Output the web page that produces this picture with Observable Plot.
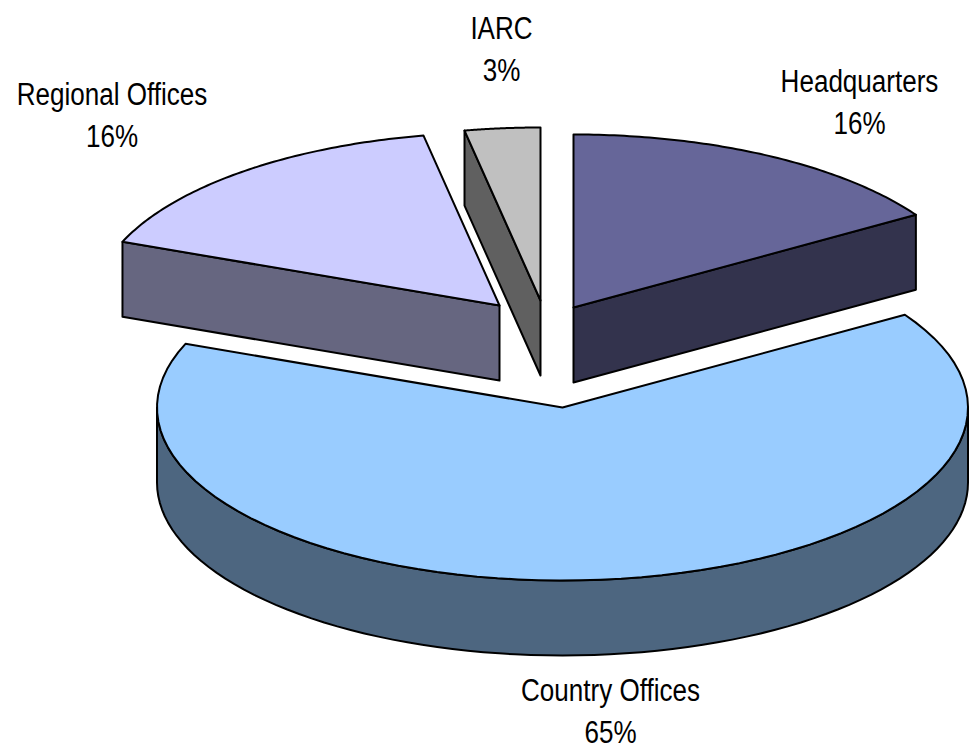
<!DOCTYPE html>
<html>
<head>
<meta charset="utf-8">
<script src="https://cdn.jsdelivr.net/npm/d3@7"></script>
<script src="https://cdn.jsdelivr.net/npm/@observablehq/plot@0.6"></script>
<style>
html,body{margin:0;padding:0;background:#fff}
svg{display:block}
</style>
</head>
<body>
<div id="chart"></div>
<script>
// Data, clockwise from twelve o'clock
const categories = ["Headquarters", "Country Offices", "Regional Offices", "IARC"];
const shares = [16, 65, 16, 3];

// Presentation of the 3D pie
const topColors = ["#666699", "#99CCFF", "#CCCCFF", "#C0C0C0"];
const sideColors = ["#33334D", "#4D6680", "#666680", "#606060"];
const apexX = [573, 562, 499, 540];
const apexY = [307, 407, 305, 300];
const labelX = [859, 610, 111.5, 501];
const labelY = [99.5, 708.5, 112, 46];
const RX = 405.5, RY = 173, DEPTH = 75;

const rad = d => d * Math.PI / 180;
const rim = (i, deg, drop = 0) => ({
  x: apexX[i] + RX * Math.cos(rad(deg)),
  y: apexY[i] - RY * Math.sin(rad(deg)) + drop
});
const arc = (i, a0, a1, drop = 0) =>
  d3.range(0, 81).map(k => rim(i, a0 + (a1 - a0) * k / 80, drop));

// Slice angles, from the shares
let cum = 0;
const slices = shares.map((s, i) => {
  const a0 = 90 - cum * 3.6;
  cum += s;
  return {i, a0, a1: 90 - cum * 3.6};
});

const polygons = [];
const add = (pts, fill) => polygons.push(pts.map(p => ({...p, fill, id: polygons.length})));
const apex = (i, drop = 0) => ({x: apexX[i], y: apexY[i] + drop});

// Country Offices
{
  const {i, a0, a1} = slices[1];
  add([...arc(i, 180, 360), ...arc(i, 360, 180, DEPTH)], sideColors[i]);
  add([apex(i), ...arc(i, a0, a1)], topColors[i]);
}
// Headquarters: front cut face
{
  const {i, a0, a1} = slices[0];
  add([apex(i), rim(i, a1), rim(i, a1, DEPTH), apex(i, DEPTH)], sideColors[i]);
  add([apex(i), ...arc(i, a0, a1)], topColors[i]);
}
// Regional Offices: front cut face
{
  const {i, a0, a1} = slices[2];
  add([apex(i), rim(i, a0), rim(i, a0, DEPTH), apex(i, DEPTH)], sideColors[i]);
  add([apex(i), ...arc(i, a0, a1)], topColors[i]);
}
// IARC: left cut face
{
  const {i, a0, a1} = slices[3];
  add([apex(i), rim(i, a0), rim(i, a0, DEPTH), apex(i, DEPTH)], sideColors[i]);
  add([apex(i), ...arc(i, a0, a1)], topColors[i]);
}

const labels = categories.map((c, i) => ({
  text: `${c}\n${shares[i]}%`, x: labelX[i], y: labelY[i]
}));

const marks = d3.groups(polygons.flat(), d => d.id).map(([, pts]) =>
  Plot.line(pts, {
    x: "x", y: "y", curve: "linear-closed",
    fill: pts[0].fill, stroke: "#000", strokeWidth: 2, strokeLinejoin: "round"
  })
);

const chart = Plot.plot({
  width: 969, height: 744,
  margin: 0,
  x: {type: "linear", domain: [0, 969], range: [0, 969], axis: null},
  y: {type: "linear", domain: [0, 744], range: [0, 744], axis: null},
  style: {background: "#fff"},
  marks: [
    ...marks,
    Plot.text(labels, {
      x: "x", y: "y", text: "text",
      fontSize: 31, lineHeight: 1.355, fill: "#000",
      fontFamily: "Liberation Sans", textAnchor: "middle"
    })
  ]
});
document.getElementById("chart").appendChild(chart);
// The reference's labels are set in a condensed cut of the face
chart.querySelectorAll("text tspan").forEach(t => {
  const len = t.getComputedTextLength();
  t.setAttribute("textLength", len * 0.84);
  t.setAttribute("lengthAdjust", "spacingAndGlyphs");
});
</script>
</body>
</html>
